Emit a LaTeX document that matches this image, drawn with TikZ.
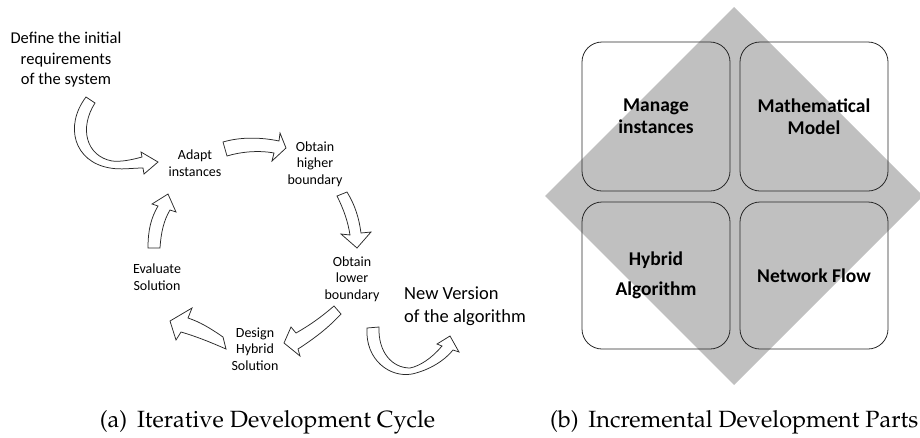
\documentclass[tikz,border=0pt]{standalone}
\usepackage[T1]{fontenc}
\usepackage{fontspec}
\setmainfont{Carlito}
\definecolor{diamondgray}{RGB}{192,192,192}
\definecolor{outline}{RGB}{40,40,40}
\tikzset{
  lbl/.style={align=center, inner sep=0pt, font=\fontsize{14}{16.5}\selectfont},
  bigtxt/.style={align=left, inner sep=0pt, font=\fontsize{18.5}{23}\selectfont},
  toptxt/.style={align=center, inner sep=0pt, font=\fontsize{16.5}{20.5}\selectfont},
  blockarrow/.style={draw=outline, fill=white, line width=0.75pt, line join=miter},
  part/.style={draw=outline, line width=0.8pt, rounded corners=20pt, inner sep=0pt,
    align=center, font=\bfseries\fontsize{19.5}{22}\selectfont},
  capt/.style={inner sep=0pt, font=\fontencoding{T1}\fontfamily{ppl}\fontsize{23.5}{28}\selectfont},
}
\begin{document}
\begin{tikzpicture}[x=1pt, y=-1pt]
\useasboundingbox (0,0) rectangle (920,437);

% ---------- (a) iterative cycle ----------
\node[toptxt] (define) at (66,60) {Define the initial\\requirements\\of the system};
\node[lbl] (adapt)  at (195,163) {Adapt\\instances};
\node[lbl] (higher) at (315,164) {Obtain\\higher\\boundary};
\node[lbl] (lower)  at (352,279) {Obtain\\lower\\boundary};
\node[lbl] (design) at (255,349) {Design\\Hybrid\\Solution};
\node[lbl] (evaluate) at (157,277) {Evaluate\\Solution};
\node[bigtxt, anchor=west] (newver) at (404,306) {New Version\\of the algorithm};

% curved arrow: requirements -> adapt
\path[blockarrow] (86,97) .. controls (64,126) and (74,162) .. (110,168)
  .. controls (121,170) and (132,168) .. (143,168)
  -- (144,174) -- (158,162) -- (141,152) -- (142,157)
  .. controls (131,160) and (121,162) .. (112,161)
  .. controls (86,156) and (79,128) .. (95,103) -- cycle;

% adapt -> higher boundary
\path[blockarrow] (223,142) .. controls (240,137) and (260,137) .. (279,141)
  -- (280,133) -- (286,148) -- (272,161) -- (274,153)
  .. controls (258,150) and (240,152) .. (227,156) -- cycle;

% higher -> lower boundary
\path[blockarrow] (337,196) .. controls (344,210) and (348,222) .. (350,235)
  -- (341,234) -- (357,248) -- (371,232) -- (361,233)
  .. controls (359,218) and (355,205) .. (347,192) -- cycle;

% lower boundary -> design
\path[blockarrow] (334,306) .. controls (320,318) and (310,325) .. (296,333)
  -- (291,327) -- (284,343) -- (300,356) -- (298,349)
  .. controls (315,338) and (328,328) .. (341,314) -- cycle;

% design -> evaluate
\path[blockarrow] (223,337) .. controls (210,328) and (200,322) .. (188,318)
  -- (192,308) -- (170,321) -- (176,340) -- (181,332)
  .. controls (195,336) and (210,342) .. (226,349) -- cycle;

% evaluate -> adapt
\path[blockarrow] (148,248) .. controls (148,230) and (151,218) .. (158,206)
  -- (152,204) -- (168,194) -- (176,212) -- (170,210)
  .. controls (164,220) and (161,232) .. (160,248) -- cycle;

% u-turn arrow towards the new version
\path[blockarrow] (367,328) .. controls (365,360) and (390,378) .. (412,374)
  .. controls (430,370) and (445,360) .. (453,350)
  -- (459,352) -- (450,336) -- (437,344) -- (442,346)
  .. controls (432,358) and (420,366) .. (410,368)
  .. controls (392,368) and (378,352) .. (379,327) -- cycle;

% ---------- (b) incremental parts ----------
\fill[diamondgray] (734,7) -- (923,196) -- (734,385) -- (545,196) -- cycle;
\node[part, minimum width=148pt, minimum height=149pt] (manage) at (656,116.5)
  {Manage\\instances};
\node[part, minimum width=148pt, minimum height=149pt] (model) at (814,116.5)
  {Mathematical\\Model};
\node[part, minimum width=148pt, minimum height=147pt,
  font=\bfseries\fontsize{19.5}{30}\selectfont] (hybrid) at (656,275.5)
  {Hybrid\\Algorithm};
\node[part, minimum width=148pt, minimum height=147pt] (flow) at (814,275.5)
  {Network Flow};

% ---------- captions ----------
\node[capt] (capa) at (267.5,422) {(a)\, Iterative Development Cycle};
\node[capt, anchor=east] (capb) at (918.5,422) {(b)\, Incremental Development Parts};
\end{tikzpicture}
\end{document}
